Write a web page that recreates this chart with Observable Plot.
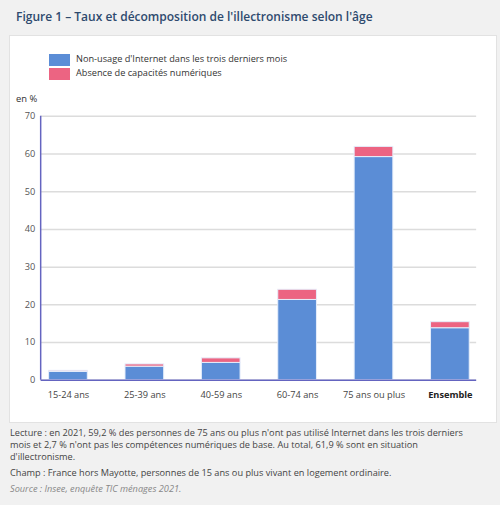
<!DOCTYPE html>
<html lang="fr">
<head>
<meta charset="utf-8">
<script src="https://cdn.jsdelivr.net/npm/d3@7"></script>
<script src="https://cdn.jsdelivr.net/npm/@observablehq/plot@0.6"></script>
<style>
  html, body { margin: 0; padding: 0; }
  body {
    width: 500px; height: 505px; position: relative; overflow: hidden;
    background: #f1f1f1; font-family: "Open Sans", sans-serif; color: #444;
  }
  #title {
    position: absolute; left: 16px; top: 8px;
    font-size: 12px; font-weight: 600; color: #2e4a6e; white-space: nowrap;
  }
  #panel {
    position: absolute; left: 9px; top: 35px; width: 486px; height: 386px;
    background: #fff; border: 1px solid #e2e2e2;
  }
  .leg { position: absolute; left: 39px; font-size: 9.2px; color: #333; white-space: nowrap; }
  .leg span { display: inline-block; width: 21px; height: 12px; vertical-align: middle; margin-right: 6px; }
  #unit { position: absolute; left: 6px; top: 56px; font-size: 9.4px; color: #333; }
  #chart { position: absolute; left: -10px; top: 64px; }
  #notes { position: absolute; left: 10px; top: 427px; font-size: 9.2px; color: #444; line-height: 12px; }
  #notes p { margin: 0 0 4px 0; white-space: nowrap; }
  #notes .src { font-style: italic; color: #888; }
</style>
</head>
<body>
<div id="title">Figure 1 – Taux et décomposition de l'illectronisme selon l'âge</div>
<div id="panel">
  <div class="leg" style="top:16px"><span style="background:#5b8dd6"></span>Non-usage d'Internet dans les trois derniers mois</div>
  <div class="leg" style="top:30px"><span style="background:#ec6482"></span>Absence de capacités numériques</div>
  <div id="unit">en %</div>
  <div id="chart"></div>
</div>
<div id="notes">
  <p>Lecture : en 2021, 59,2 % des personnes de 75 ans ou plus n'ont pas utilisé Internet dans les trois derniers<br>mois et 2,7 % n'ont pas les compétences numériques de base. Au total, 61,9 % sont en situation<br>d'illectronisme.</p>
  <p>Champ : France hors Mayotte, personnes de 15 ans ou plus vivant en logement ordinaire.</p>
  <p class="src">Source : Insee, enquête TIC ménages 2021.</p>
</div>
<script>
// Age groups and the two components of digital illiteracy (in %)
const ages = ["15-24 ans", "25-39 ans", "40-59 ans", "60-74 ans", "75 ans ou plus", "Ensemble"];
const nonUsage = [2.2, 3.6, 4.6, 21.3, 59.2, 13.8];
const absenceCapacites = [0.3, 0.6, 1.2, 2.7, 2.7, 1.6];
const seriesNames = ["Non-usage d'Internet dans les trois derniers mois", "Absence de capacités numériques"];
const seriesColors = ["#5b8dd6", "#ec6482"];
const yTicks = [0, 10, 20, 30, 40, 50, 60, 70];

const rows = [];
ages.forEach((a, i) => {
  rows.push({age: a, serie: seriesNames[0], value: nonUsage[i]});
  rows.push({age: a, serie: seriesNames[1], value: absenceCapacites[i]});
});

const axisColor = "#6464c0";
const W = 500, H = 312, ML = 41, MR = 20, MT = 16, MB = 30;

const chart = Plot.plot({
  width: W,
  height: H,
  marginLeft: ML,
  marginRight: MR,
  marginTop: MT,
  marginBottom: MB,
  style: {fontFamily: "Open Sans, sans-serif", fontSize: "9.3px", color: "#444", background: "transparent"},
  x: {domain: ages, paddingInner: 0.5, paddingOuter: 0.1, label: null},
  y: {domain: [0, 70], label: null},
  color: {domain: seriesNames, range: seriesColors},
  marks: [
    Plot.gridY(yTicks, {stroke: "#dcdcdc", strokeOpacity: 1, strokeWidth: 1.5}),
    Plot.barY(rows, Plot.stackY({x: "age", y: "value", fill: "serie", order: seriesNames, stroke: "#e6eefb", strokeWidth: 1})),
    Plot.axisY(yTicks, {tickSize: 0, tickPadding: 6, fill: "#555"}),
    Plot.ruleY([0], {stroke: axisColor, strokeWidth: 1.5}),
    Plot.axisX({tickSize: 0, tickPadding: 11, fill: "#444"})
  ]
});

const svg = d3.select(chart);
// vertical axis line along the left edge of the plot area
svg.append("line")
  .attr("x1", ML).attr("x2", ML)
  .attr("y1", MT).attr("y2", H - MB)
  .attr("stroke", axisColor).attr("stroke-width", 1.5);
// the overall category is set in bold
svg.selectAll("text").filter(function() { return this.textContent === "Ensemble"; })
  .attr("font-weight", "bold").attr("fill", "#222");

document.getElementById("chart").appendChild(chart);
</script>
</body>
</html>
